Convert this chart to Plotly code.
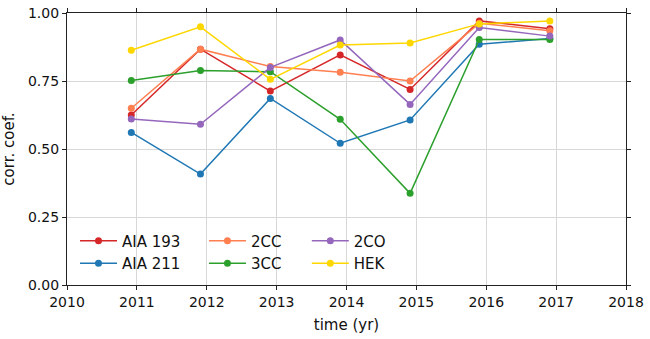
import plotly.graph_objects as go

# observation times (slightly before each new year)
years = [2010.92, 2011.91, 2012.91, 2013.91, 2014.91, 2015.9, 2016.91]

aia193 = [0.625, 0.867, 0.713, 0.846, 0.719, 0.971, 0.942]
aia211 = [0.561, 0.408, 0.686, 0.521, 0.607, 0.885, 0.906]
cc2 = [0.650, 0.867, 0.803, 0.782, 0.750, 0.962, 0.935]
cc3 = [0.752, 0.789, 0.784, 0.609, 0.337, 0.903, 0.903]
co2 = [0.610, 0.591, 0.800, 0.901, 0.664, 0.947, 0.915]
hek = [0.863, 0.949, 0.756, 0.882, 0.890, 0.960, 0.971]

series = [
    ("AIA 193", aia193, "#d62728", "legend"),
    ("AIA 211", aia211, "#1f77b4", "legend"),
    ("2CC", cc2, "#ff7f50", "legend2"),
    ("3CC", cc3, "#2ca02c", "legend2"),
    ("2CO", co2, "#9467bd", "legend3"),
    ("HEK", hek, "#ffd700", "legend3"),
]

fig = go.Figure()
for name, vals, color, leg in series:
    fig.add_trace(
        go.Scatter(
            x=years,
            y=vals,
            name=name,
            mode="lines+markers",
            line=dict(color=color, width=1.5),
            marker=dict(color=color, size=7),
            legend=leg,
        )
    )

axis_common = dict(
    showline=True,
    linecolor="#222",
    linewidth=1.2,
    mirror="ticks",
    ticks="outside",
    ticklen=4,
    tickcolor="#222",
    showgrid=True,
    gridcolor="#d8d8d8",
    gridwidth=1,
    zeroline=False,
    automargin=False,
    ticklabeloverflow="allow",
    tickfont=dict(size=14, color="#111"),
)

legend_common = dict(
    bgcolor="rgba(0,0,0,0)",
    font=dict(size=15, color="#111"),
    yanchor="bottom",
    y=0.02,
    xanchor="left",
    tracegroupgap=0,
    itemwidth=37,
)

fig.update_layout(
    width=650,
    height=339,
    margin=dict(l=67, r=24, t=13, b=54, autoexpand=False),
    paper_bgcolor="white",
    plot_bgcolor="white",
    font=dict(family="DejaVu Sans", size=15, color="#111"),
    xaxis=dict(
        axis_common,
        range=[2010, 2018],
        dtick=1,
        tickformat="d",
        title=dict(text="time (yr)", font=dict(size=15), standoff=10),
    ),
    yaxis=dict(
        axis_common,
        range=[0, 1],
        dtick=0.25,
        tickformat=".2f",
        title=dict(text="corr. coef.", font=dict(size=15), standoff=9),
    ),
    legend=dict(legend_common, x=0.0143),
    legend2=dict(legend_common, x=0.245),
    legend3=dict(legend_common, x=0.429),
)

# drop the browser's default body margin so the figure fills the window
fig.write_html(
    "out.html",
    config={"displayModeBar": False},
    post_script="document.body.style.margin='0';",
)
